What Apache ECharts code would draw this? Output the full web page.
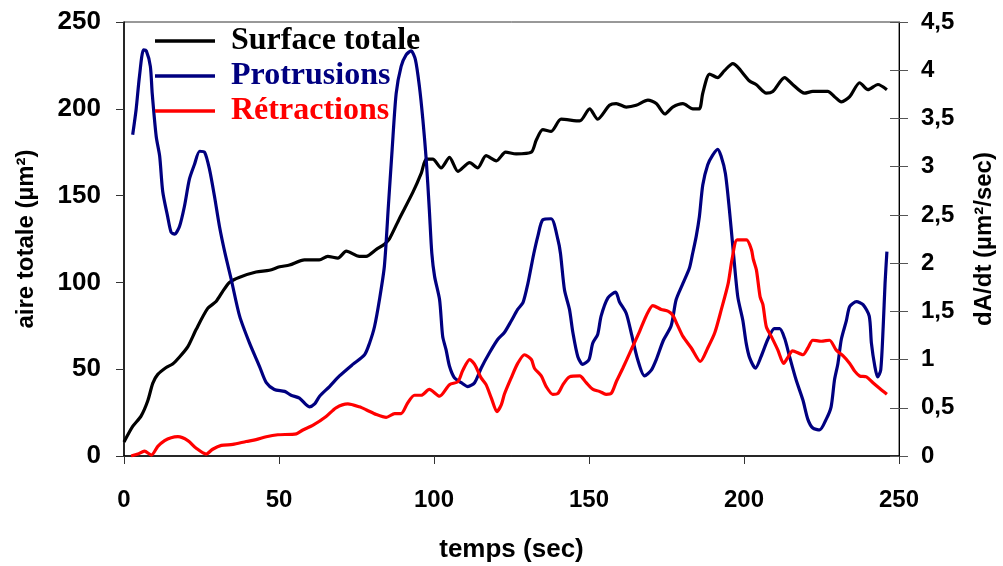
<!DOCTYPE html>
<html>
<head>
<meta charset="utf-8">
<script src="https://cdn.jsdelivr.net/npm/echarts@6/dist/echarts.min.js"></script>
<style>
  html, body { margin: 0; padding: 0; background: #fff; }
  #chart { width: 1003px; height: 566px; }
</style>
</head>
<body>
<div id="chart"></div>
<script>
// Total cell surface (µm²) over time
const surfaceTime = [0, 2.8, 5.5, 7.7, 9.3, 10.9, 13.6, 15.7, 17.9, 20.6, 23.3, 27, 29.7, 31.9, 34, 37.3, 42.6, 46.9, 50.2, 53.4, 58.2, 63, 65.7, 69, 71.7, 75.9, 78.1, 81.4, 84, 85.6, 88.9, 93.2, 95.9, 97.5, 99.6, 102.3, 105, 107.7, 111.5, 114.1, 116.8, 120.1, 123.1, 126.5, 131.4, 133, 135.1, 137.8, 141, 147, 150.2, 152.8, 156.6, 158.8, 162, 165.2, 169, 171.7, 174.5, 177, 180.3, 183.5, 185.6, 186.7, 188.9, 191.5, 193.7, 196.4, 198, 201.8, 203.9, 207.2, 209.3, 213.1, 215.7, 219.5, 222.2, 227, 229.2, 231.4, 234.1, 237.3, 240, 243.2, 246.1];
const surfaceValues = [8, 17, 23, 32, 42, 47, 51, 53, 57, 63, 73, 85, 89, 95, 100, 103, 106, 107, 109, 110, 113, 113, 115, 114, 118, 115, 115, 119, 122, 125, 137, 152, 163, 171, 171, 166, 172, 164, 169, 166, 173, 170, 175, 174, 175, 182, 188, 187, 194, 193, 200, 194, 202, 203, 201, 202, 205, 203, 197, 201, 203, 200, 200, 209, 220, 218, 222, 226, 224, 216, 214, 209, 210, 218, 214, 209, 210, 210, 207, 204, 207, 215, 211, 214, 211];

// Protrusion rate dA/dt (µm²/sec)
const protrusionTime = [2.8, 3.9, 5, 6.3, 7.2, 8.5, 9.1, 10.4, 11.5, 12.5, 14.1, 15.2, 16.3, 17.9, 19.5, 21.1, 22.7, 24.4, 26, 27.6, 29.2, 30.8, 32.6, 34.6, 37.3, 40.5, 43.7, 45.9, 48.5, 51.8, 53.9, 56.6, 59.8, 61.5, 63.1, 66.3, 69.5, 73.8, 77.6, 79.2, 80.8, 82.4, 84, 85.3, 86.5, 87.8, 89.4, 91, 92.6, 94, 95.3, 96.4, 97.5, 98.5, 99.3, 100.2, 101.8, 102.8, 103.9, 105, 106.6, 108.8, 110.9, 113.1, 115.2, 117.9, 120.6, 122.7, 124.9, 127, 128.7, 130.3, 131.4, 132.2, 133.5, 135.1, 137.8, 140, 140.8, 142.1, 143.7, 144.8, 146.4, 148, 150, 151.2, 152.8, 153.9, 156.1, 158.6, 159.8, 162, 163.6, 165.7, 167.9, 170.1, 171.7, 174, 176.5, 178.1, 180.3, 182.4, 183.3, 184.6, 185.6, 186.7, 188.3, 189.9, 191.5, 192.6, 194, 195.3, 196.6, 198, 199.6, 200.7, 201.8, 203.7, 205.5, 207.7, 209.8, 211.5, 213.1, 214.7, 216.8, 219, 220.6, 222.2, 224.4, 226.5, 228.1, 229.2, 230.3, 231.4, 233, 234.1, 236.3, 238.4, 240.4, 241.1, 242.2, 243.1, 244.1, 244.9, 245.5, 246.1];
const protrusionValues = [3.33, 3.59, 3.94, 4.21, 4.20, 4.04, 3.76, 3.31, 3.11, 2.74, 2.48, 2.32, 2.30, 2.38, 2.59, 2.87, 3.02, 3.16, 3.15, 2.97, 2.69, 2.38, 2.10, 1.83, 1.45, 1.17, 0.93, 0.76, 0.69, 0.67, 0.63, 0.60, 0.51, 0.54, 0.62, 0.72, 0.83, 0.95, 1.05, 1.17, 1.34, 1.62, 1.97, 2.60, 3.18, 3.76, 4.04, 4.16, 4.20, 4.11, 3.83, 3.49, 3.07, 2.55, 2.10, 1.86, 1.62, 1.24, 1.10, 0.93, 0.81, 0.76, 0.72, 0.76, 0.91, 1.07, 1.21, 1.28, 1.40, 1.52, 1.59, 1.79, 1.97, 2.10, 2.28, 2.45, 2.46, 2.24, 2.10, 1.72, 1.52, 1.28, 1.03, 0.95, 1.00, 1.17, 1.26, 1.45, 1.64, 1.70, 1.60, 1.48, 1.28, 1.00, 0.83, 0.89, 1.00, 1.20, 1.35, 1.62, 1.79, 1.95, 2.08, 2.28, 2.48, 2.81, 3.02, 3.12, 3.18, 3.11, 2.93, 2.55, 2.10, 1.65, 1.41, 1.17, 1.02, 0.91, 1.03, 1.21, 1.32, 1.32, 1.22, 1.03, 0.79, 0.58, 0.38, 0.29, 0.27, 0.38, 0.51, 0.79, 0.96, 1.21, 1.40, 1.55, 1.60, 1.57, 1.45, 1.17, 0.93, 0.82, 0.89, 1.34, 1.79, 2.12];

// Retraction rate dA/dt (µm²/sec)
const retractionTime = [2.3, 4.5, 6.6, 8.8, 10.9, 13.1, 15.2, 17.4, 20.6, 23.3, 26.5, 28.6, 31.4, 35.1, 39.4, 42.6, 45.9, 49.6, 55.6, 57.7, 61, 65.2, 68.4, 72.2, 75.9, 78.1, 81.4, 84.6, 87.3, 89.4, 91.5, 93.7, 95.9, 98.5, 101.8, 105, 107.7, 109.3, 111.5, 113.1, 115.2, 116.8, 118.5, 120.3, 121.7, 122.7, 124.9, 127, 129.2, 131.4, 132.4, 134.6, 136.2, 138.3, 140, 141.6, 143.7, 147, 149.1, 151.3, 153.4, 155.5, 157.2, 158.8, 160.9, 163.6, 166.3, 168.4, 170.6, 173.3, 175.6, 177, 178.5, 180.3, 183, 185.9, 188.3, 190.6, 192.7, 194.9, 196.2, 197.8, 200.8, 202.4, 203, 204, 205.2, 206.1, 207.2, 208.8, 210.9, 212.8, 214.1, 215.7, 219, 220.6, 222.2, 224.9, 227.6, 229.7, 231.9, 234.1, 235.7, 237.3, 239.5, 241.6, 243.8, 246.1];
const retractionValues = [0, 0.02, 0.05, 0.01, 0.10, 0.16, 0.19, 0.20, 0.16, 0.08, 0.02, 0.07, 0.11, 0.12, 0.15, 0.17, 0.20, 0.22, 0.23, 0.27, 0.32, 0.41, 0.50, 0.54, 0.51, 0.48, 0.43, 0.40, 0.44, 0.44, 0.55, 0.63, 0.63, 0.69, 0.62, 0.74, 0.77, 0.89, 1.00, 0.95, 0.81, 0.74, 0.60, 0.46, 0.53, 0.64, 0.81, 0.96, 1.05, 1.00, 0.91, 0.83, 0.72, 0.64, 0.65, 0.74, 0.82, 0.83, 0.76, 0.69, 0.67, 0.64, 0.65, 0.77, 0.91, 1.10, 1.29, 1.45, 1.56, 1.52, 1.50, 1.46, 1.36, 1.24, 1.12, 0.98, 1.12, 1.28, 1.52, 1.79, 2.05, 2.24, 2.24, 2.14, 2.04, 1.93, 1.65, 1.57, 1.34, 1.24, 1.10, 0.96, 1.02, 1.09, 1.05, 1.12, 1.20, 1.19, 1.20, 1.10, 1.04, 0.96, 0.88, 0.83, 0.82, 0.76, 0.70, 0.64];

const seriesNames = ['Surface totale', 'Protrusions', 'Rétractions'];
const seriesColors = ['#000000', '#000080', '#ff0000'];

const pairs = (xs, ys) => xs.map((x, i) => [x, ys[i]]);
const sans = 'Liberation Sans, Arial, sans-serif';
const comma = v => String(v).replace('.', ',');

const chart = echarts.init(document.getElementById('chart'), null, { renderer: 'canvas' });

const lineSeries = (i, xs, ys, axis) => ({
  name: seriesNames[i], type: 'line', yAxisIndex: axis,
  data: pairs(xs, ys),
  showSymbol: false, symbol: 'none', smooth: 0.25,
  lineStyle: { color: seriesColors[i], width: 3.2 },
  itemStyle: { color: seriesColors[i] }
});

chart.setOption({
  animation: false,
  backgroundColor: '#ffffff',
  grid: {
    left: 124, right: 104, top: 22, bottom: 110,
    show: true, borderColor: '#333', borderWidth: 1,
    containLabel: false, outerBoundsMode: 'none'
  },
  legend: {
    orient: 'vertical',
    left: 150, top: 20,
    icon: 'rect',
    itemWidth: 60, itemHeight: 3.5, itemGap: 3,
    data: seriesNames.map((n, i) => ({
      name: n,
      textStyle: { color: seriesColors[i] }
    })),
    textStyle: {
      fontFamily: 'Liberation Serif, Times New Roman, serif',
      fontWeight: 'bold', fontSize: 32,
      padding: [0, 0, 8, 11]
    }
  },
  xAxis: {
    type: 'value', min: 0, max: 250, interval: 50,
    name: 'temps (sec)', nameLocation: 'middle', nameGap: 81,
    nameTextStyle: { fontFamily: sans, fontWeight: 'bold', fontSize: 26, color: '#000' },
    axisLine: { lineStyle: { color: '#000', width: 1.5 } },
    axisTick: { show: true, length: 8, lineStyle: { color: '#333' } },
    axisLabel: { margin: 32, fontFamily: sans, fontWeight: 'bold', fontSize: 24, color: '#000' },
    splitLine: { show: false }
  },
  yAxis: [
    {
      type: 'value', position: 'left', min: 0, max: 250, interval: 50,
      name: 'aire totale (µm²)', nameLocation: 'middle', nameGap: 86, nameRotate: 90,
      nameTextStyle: { fontFamily: sans, fontWeight: 'bold', fontSize: 24, color: '#000' },
      axisLine: { show: true, lineStyle: { color: '#000', width: 1.5 } },
      axisTick: { show: true, length: 8, lineStyle: { color: '#333' } },
      axisLabel: { margin: 23, fontFamily: sans, fontWeight: 'bold', fontSize: 26, color: '#000' },
      splitLine: { show: false }
    },
    {
      type: 'value', position: 'right', min: 0, max: 4.5, interval: 0.5,
      name: 'dA/dt (µm²/sec)', nameLocation: 'middle', nameGap: 73, nameRotate: 90,
      nameTextStyle: { fontFamily: sans, fontWeight: 'bold', fontSize: 24, color: '#000' },
      axisLine: { show: true, lineStyle: { color: '#000', width: 1 } },
      axisTick: { show: true, length: 9, lineStyle: { color: '#555' } },
      axisLabel: { margin: 22, fontFamily: sans, fontWeight: 'bold', fontSize: 24, color: '#000', formatter: comma },
      splitLine: { show: false }
    },
    {
      // inner half of the right-hand tick marks
      type: 'value', position: 'right', min: 0, max: 4.5, interval: 0.5,
      axisLine: { show: false },
      axisTick: { show: true, inside: true, length: 9, lineStyle: { color: '#555' } },
      axisLabel: { show: false },
      splitLine: { show: false }
    }
  ],
  series: [
    lineSeries(0, surfaceTime, surfaceValues, 0),
    lineSeries(1, protrusionTime, protrusionValues, 1),
    lineSeries(2, retractionTime, retractionValues, 1)
  ]
});
</script>
</body>
</html>
